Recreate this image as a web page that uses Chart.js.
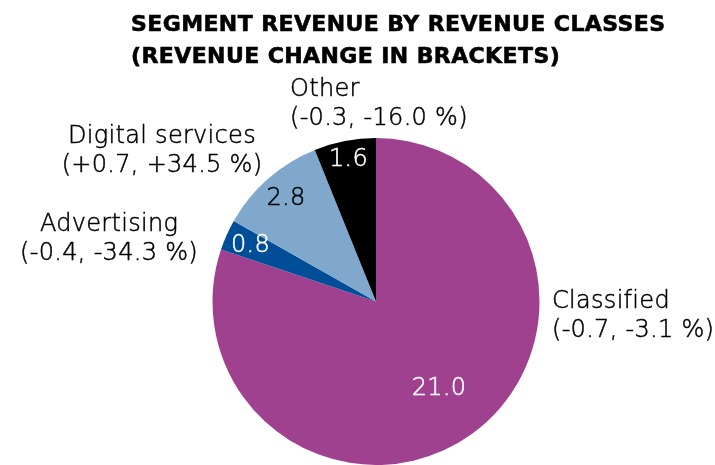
<!DOCTYPE html>
<html><head><meta charset="utf-8">
<script src="https://cdn.jsdelivr.net/npm/chart.js@4/dist/chart.umd.min.js"></script>
<style>html,body{margin:0;padding:0;background:#fff}#c{display:block}</style>
</head><body>
<canvas id="c" width="715" height="465"></canvas>
<script>
const titleLines = ["SEGMENT REVENUE BY REVENUE CLASSES", "(REVENUE CHANGE IN BRACKETS)"];
const categories = ["Classified", "Advertising", "Digital services", "Other"];
const revenue = [21.0, 0.8, 2.8, 1.6];
const changeLabels = ["(-0.7, -3.1 %)", "(-0.4, -34.3 %)", "(+0.7, +34.5 %)", "(-0.3, -16.0 %)"];
const colors = ["#A0418F", "#004E98", "#80A8CD", "#000000"];
const valueColors = ["#ffffff", "#ffffff", "#000000", "#ffffff"];

// label placement (style only)
const valueRadius = [0.66, 0.84, 0.835, 0.88];
const outerLabels = [
  {x: 552, y: 301.5, align: "left"},
  {x: 109, y: 225, align: "center"},
  {x: 162, y: 137, align: "center"},
  {x: 290, y: 90, align: "left"}
];
const FONT = "'DejaVu Sans', sans-serif";

function drawText(ctx, t, x, y) {
  ctx.fillText(t, x, y);
  ctx.strokeText(t, x, y);
}

const textPlugin = {
  id: "texts",
  afterDatasetsDraw(chart) {
    const ctx = chart.ctx;
    ctx.save();
    ctx.textBaseline = "middle";
    // title
    ctx.fillStyle = "#000";
    ctx.strokeStyle = "#000";
    ctx.lineWidth = 0.6;
    ctx.font = "bold 22px " + FONT;
    ctx.letterSpacing = "0.4px";
    ctx.textAlign = "left";
    titleLines.forEach((t, i) => drawText(ctx, t, 131, 25 + i * 32));
    // values
    const meta = chart.getDatasetMeta(0);
    ctx.font = "200 24px " + FONT;
    ctx.letterSpacing = "0.3px";
    ctx.lineWidth = 0.5;
    ctx.textAlign = "center";
    meta.data.forEach((arc, i) => {
      const p = arc.getProps(["x", "y", "startAngle", "endAngle", "outerRadius"], true);
      const mid = (p.startAngle + p.endAngle) / 2;
      const r = p.outerRadius * valueRadius[i];
      ctx.fillStyle = valueColors[i];
      ctx.strokeStyle = valueColors[i];
      drawText(ctx, revenue[i].toFixed(1), p.x + Math.cos(mid) * r, p.y + Math.sin(mid) * r);
    });
    // outer labels
    ctx.fillStyle = "#000";
    ctx.strokeStyle = "#000";
    categories.forEach((c, i) => {
      const L = outerLabels[i];
      ctx.textAlign = L.align;
      drawText(ctx, c, L.x, L.y);
      drawText(ctx, changeLabels[i], L.x, L.y + 29);
    });
    ctx.restore();
  }
};

new Chart(document.getElementById("c"), {
  type: "pie",
  data: {
    labels: categories,
    datasets: [{ data: revenue, backgroundColor: colors, borderWidth: 0 }]
  },
  options: {
    responsive: false,
    animation: false,
    layout: { padding: { top: 138, bottom: 0, left: 212.5, right: 175.5 } },
    plugins: { legend: { display: false }, tooltip: { enabled: false }, title: { display: false } }
  },
  plugins: [textPlugin]
});
</script>
</body></html>
